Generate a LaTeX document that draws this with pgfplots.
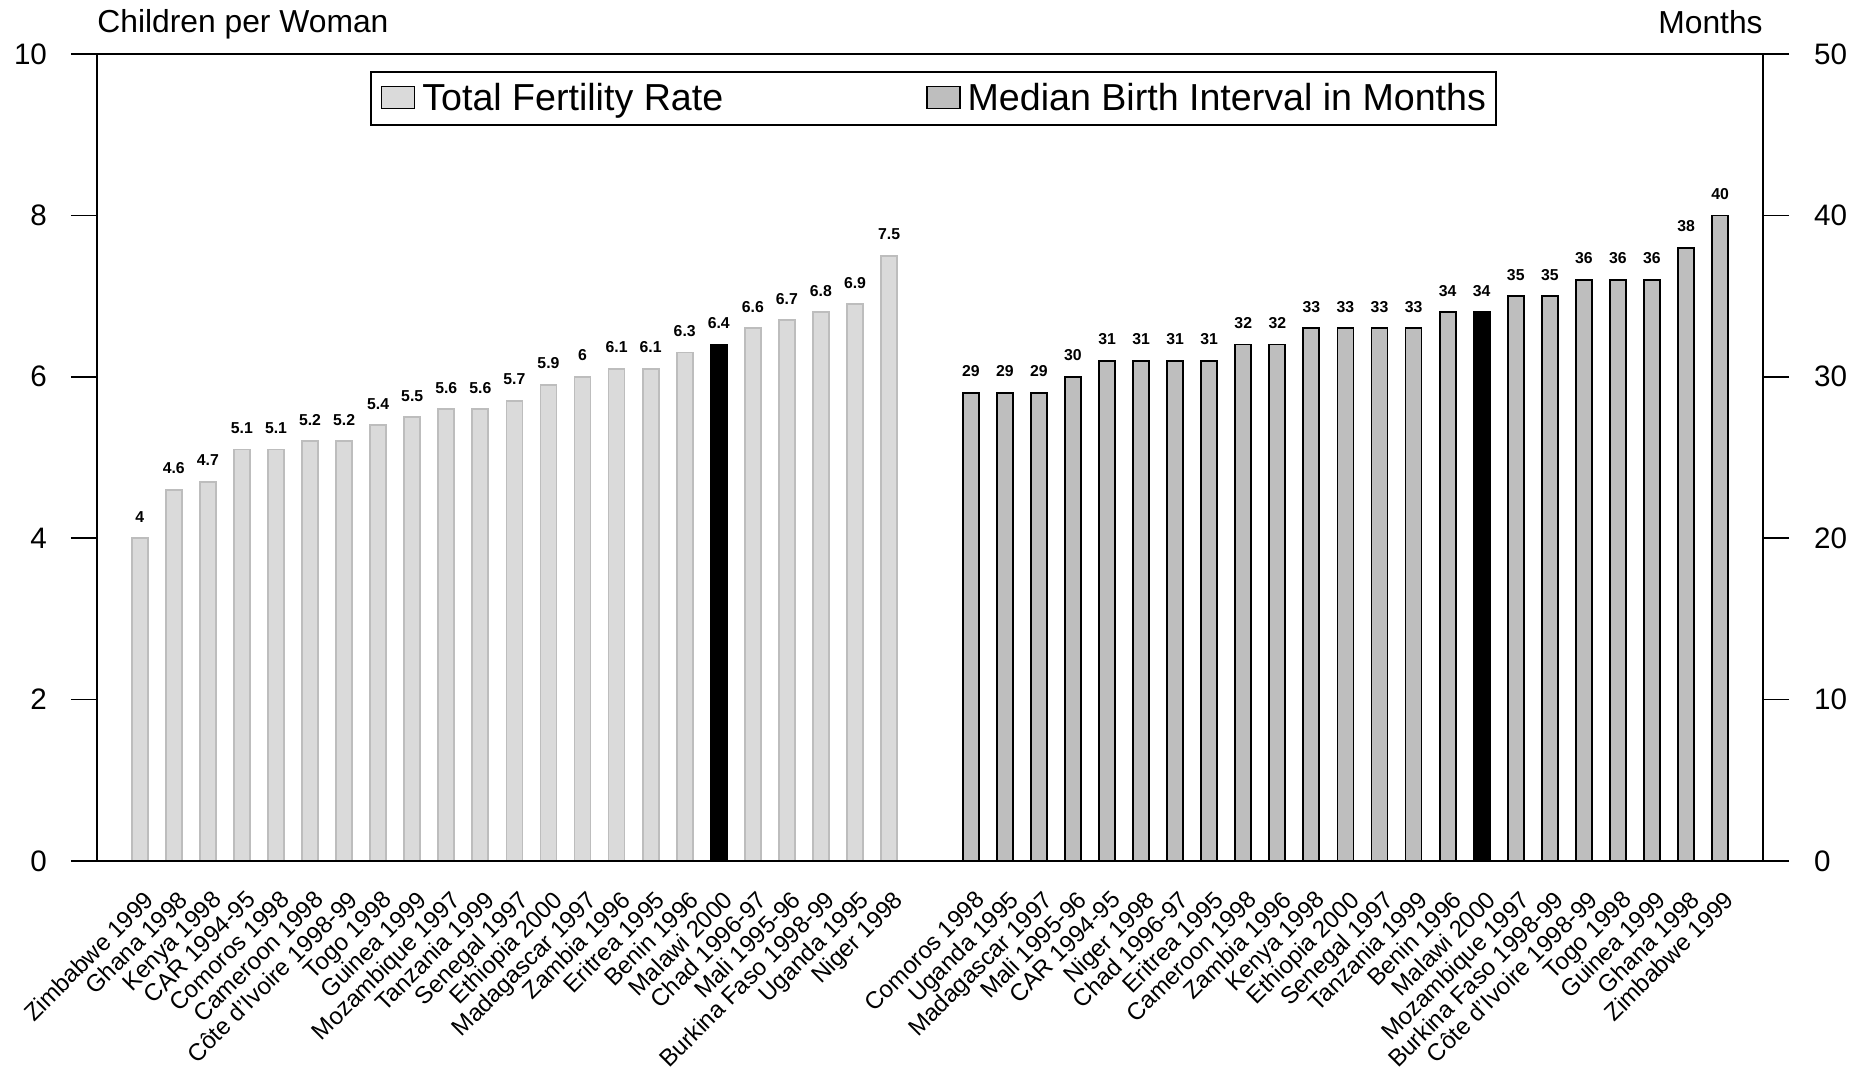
\documentclass[border=0pt]{standalone}
\usepackage{pgfplots}
\pgfplotsset{compat=1.18}
\usepackage{fontspec}
\setmainfont{Liberation Sans}
\definecolor{tfrfill}{HTML}{DADADA}
\definecolor{tfrdraw}{HTML}{BDBDBD}
\definecolor{mbifill}{HTML}{BEBEBE}

\pgfplotsset{
  common/.style={
    width=833pt, height=403.5pt, scale only axis,
    xmin=-1.255, xmax=47.66,
    axis line style={line width=0.8pt},
    every tick/.style={line width=0.8pt, black},
    major tick length=13pt,
    tick align=outside,
    ybar, bar width=8pt, bar shift=0pt,
    /pgf/number format/assume math mode=true,
    xtick style={draw=none},
    x tick label style={font=\fontsize{12}{14}\selectfont, inner sep=0pt, xshift=1.5pt, yshift=-1pt, rotate=45, anchor=north east},
    y tick label style={font=\fontsize{14.8}{17}\selectfont},
    xtick pos=bottom,
    clip=false,
    legend image code/.code={\draw[#1, draw=black, line width=0.7pt] (0pt,1.2pt) rectangle (16.5pt,12.2pt);},
  },
  vlabels/.style={
    nodes near coords,
    every node near coord/.append style={font=\bfseries\fontsize{7.9}{9}\selectfont, inner sep=0pt, anchor=south, yshift=7.5pt, black},
  }
}

\begin{document}
\begin{tikzpicture}
\useasboundingbox (-48.5pt,-105pt) rectangle (887.5pt,430.5pt);

% Left axis: Total Fertility Rate
\begin{axis}[common,
  ymin=0, ymax=10, ytick={0,2,4,6,8,10},
  ytick pos=left,
  y tick label style={xshift=-8.5pt},
  xtick=data,
  xticklabels={Zimbabwe 1999, Ghana 1998, Kenya 1998, CAR 1994-95, Comoros 1998, Cameroon 1998, Côte d'Ivoire 1998-99, Togo 1998, Guinea 1999, Mozambique 1997, Tanzania 1999, Senegal 1997, Ethiopia 2000, Madagascar 1997, Zambia 1996, Eritrea 1995, Benin 1996, Malawi 2000, Chad  1996-97, Mali 1995-96, Burkina Faso 1998-99, Uganda 1995, Niger 1998},
]
\addplot[fill=tfrfill, draw=tfrdraw, line width=0.9pt, vlabels] coordinates {
 (0,4) (1,4.6) (2,4.7) (3,5.1) (4,5.1) (5,5.2) (6,5.2) (7,5.4) (8,5.5) (9,5.6) (10,5.6) (11,5.7)
 (12,5.9) (13,6) (14,6.1) (15,6.1) (16,6.3) (17,6.4) (18,6.6) (19,6.7) (20,6.8) (21,6.9) (22,7.5)
};
\addplot[fill=black, draw=black, line width=0.9pt, forget plot] coordinates {(17,6.4)};
\node[anchor=base west, inner sep=0pt, font=\fontsize{15.9}{18}\selectfont, yshift=10.5pt] at (rel axis cs:0,1) {Children per Woman};
\end{axis}

% Right axis: Median birth interval
\begin{axis}[common,
  ymin=0, ymax=50, ytick={0,10,20,30,40,50},
  ytick pos=right, yticklabel pos=right,
  y tick label style={xshift=9pt},
  xtick=data,
  xticklabels={Comoros 1998, Uganda 1995, Madagascar 1997, Mali 1995-96, CAR 1994-95, Niger 1998, Chad  1996-97, Eritrea 1995, Cameroon 1998, Zambia 1996, Kenya 1998, Ethiopia 2000, Senegal 1997, Tanzania 1999, Benin 1996, Malawi 2000, Mozambique 1997, Burkina Faso 1998-99, Côte d'Ivoire 1998-99, Togo 1998, Guinea 1999, Ghana 1998, Zimbabwe 1999},
  legend columns=2,
  legend style={at={(0.1639,0.979)}, anchor=north west, draw=black, line width=0.9pt,
    font=\fontsize{18.8}{21}\selectfont, inner xsep=5pt, inner ysep=5.8pt,
    nodes={inner sep=0pt, anchor=base west},
    /tikz/every even column/.append style={column sep=101.5pt},
    /tikz/every odd column/.append style={column sep=3.5pt}},
]
\addlegendimage{fill=tfrfill}
\addlegendentry{Total Fertility Rate}
\addplot[fill=mbifill, draw=black, line width=0.9pt, vlabels] coordinates {
 (24.4,29) (25.4,29) (26.4,29) (27.4,30) (28.4,31) (29.4,31) (30.4,31) (31.4,31) (32.4,32) (33.4,32)
 (34.4,33) (35.4,33) (36.4,33) (37.4,33) (38.4,34) (39.4,34) (40.4,35) (41.4,35) (42.4,36) (43.4,36)
 (44.4,36) (45.4,38) (46.4,40)
};
\addlegendentry{Median Birth Interval in Months}
\addplot[fill=black, draw=black, line width=0.9pt, forget plot] coordinates {(39.4,34)};
\node[anchor=base east, inner sep=0pt, font=\fontsize{15.9}{18}\selectfont, yshift=10.5pt] at (rel axis cs:1,1) {Months};
\end{axis}
\end{tikzpicture}
\end{document}
